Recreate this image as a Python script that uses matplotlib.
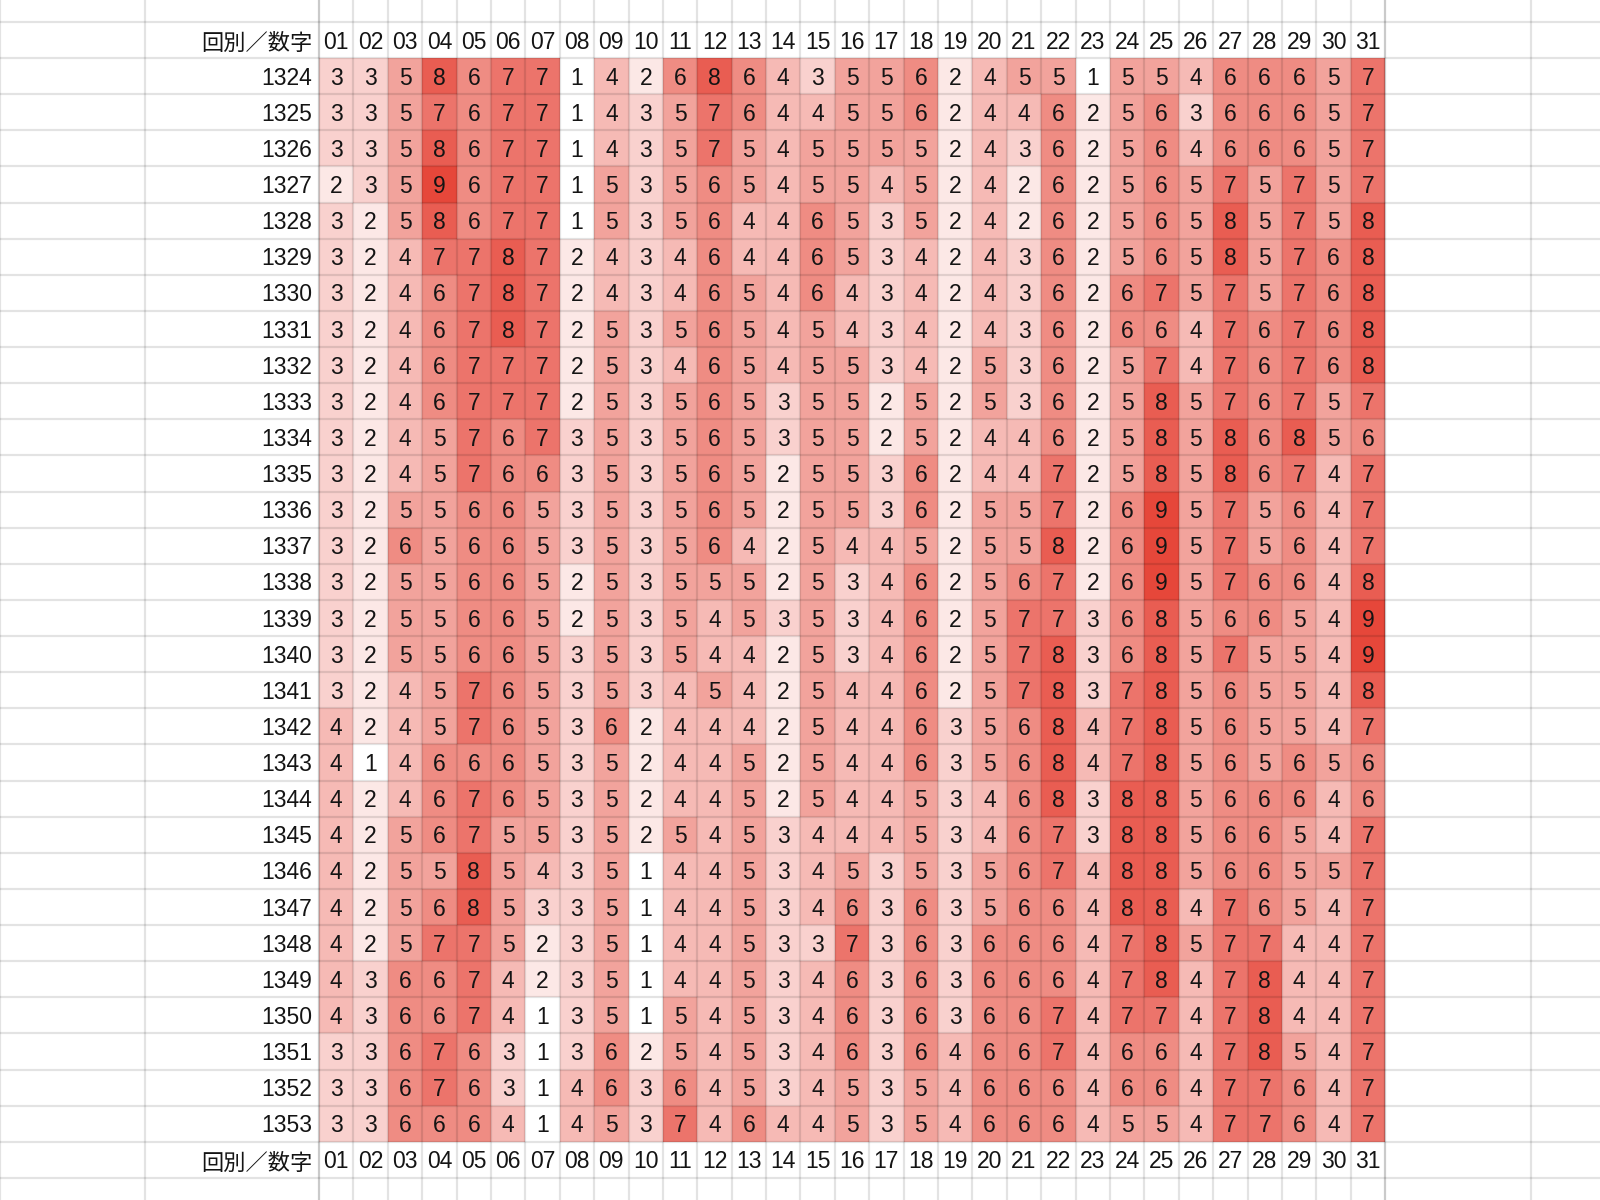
import numpy as np
import matplotlib.pyplot as plt
from matplotlib.colors import LinearSegmentedColormap

# Datos: conteo por número (01-31) en cada ronda
rounds = list(range(1324, 1354))
numbers = ['%02d' % n for n in range(1, 32)]
corner_label = '回別／数字'

counts = [
    [3, 3, 5, 8, 6, 7, 7, 1, 4, 2, 6, 8, 6, 4, 3, 5, 5, 6, 2, 4, 5, 5, 1, 5, 5, 4, 6, 6, 6, 5, 7],
    [3, 3, 5, 7, 6, 7, 7, 1, 4, 3, 5, 7, 6, 4, 4, 5, 5, 6, 2, 4, 4, 6, 2, 5, 6, 3, 6, 6, 6, 5, 7],
    [3, 3, 5, 8, 6, 7, 7, 1, 4, 3, 5, 7, 5, 4, 5, 5, 5, 5, 2, 4, 3, 6, 2, 5, 6, 4, 6, 6, 6, 5, 7],
    [2, 3, 5, 9, 6, 7, 7, 1, 5, 3, 5, 6, 5, 4, 5, 5, 4, 5, 2, 4, 2, 6, 2, 5, 6, 5, 7, 5, 7, 5, 7],
    [3, 2, 5, 8, 6, 7, 7, 1, 5, 3, 5, 6, 4, 4, 6, 5, 3, 5, 2, 4, 2, 6, 2, 5, 6, 5, 8, 5, 7, 5, 8],
    [3, 2, 4, 7, 7, 8, 7, 2, 4, 3, 4, 6, 4, 4, 6, 5, 3, 4, 2, 4, 3, 6, 2, 5, 6, 5, 8, 5, 7, 6, 8],
    [3, 2, 4, 6, 7, 8, 7, 2, 4, 3, 4, 6, 5, 4, 6, 4, 3, 4, 2, 4, 3, 6, 2, 6, 7, 5, 7, 5, 7, 6, 8],
    [3, 2, 4, 6, 7, 8, 7, 2, 5, 3, 5, 6, 5, 4, 5, 4, 3, 4, 2, 4, 3, 6, 2, 6, 6, 4, 7, 6, 7, 6, 8],
    [3, 2, 4, 6, 7, 7, 7, 2, 5, 3, 4, 6, 5, 4, 5, 5, 3, 4, 2, 5, 3, 6, 2, 5, 7, 4, 7, 6, 7, 6, 8],
    [3, 2, 4, 6, 7, 7, 7, 2, 5, 3, 5, 6, 5, 3, 5, 5, 2, 5, 2, 5, 3, 6, 2, 5, 8, 5, 7, 6, 7, 5, 7],
    [3, 2, 4, 5, 7, 6, 7, 3, 5, 3, 5, 6, 5, 3, 5, 5, 2, 5, 2, 4, 4, 6, 2, 5, 8, 5, 8, 6, 8, 5, 6],
    [3, 2, 4, 5, 7, 6, 6, 3, 5, 3, 5, 6, 5, 2, 5, 5, 3, 6, 2, 4, 4, 7, 2, 5, 8, 5, 8, 6, 7, 4, 7],
    [3, 2, 5, 5, 6, 6, 5, 3, 5, 3, 5, 6, 5, 2, 5, 5, 3, 6, 2, 5, 5, 7, 2, 6, 9, 5, 7, 5, 6, 4, 7],
    [3, 2, 6, 5, 6, 6, 5, 3, 5, 3, 5, 6, 4, 2, 5, 4, 4, 5, 2, 5, 5, 8, 2, 6, 9, 5, 7, 5, 6, 4, 7],
    [3, 2, 5, 5, 6, 6, 5, 2, 5, 3, 5, 5, 5, 2, 5, 3, 4, 6, 2, 5, 6, 7, 2, 6, 9, 5, 7, 6, 6, 4, 8],
    [3, 2, 5, 5, 6, 6, 5, 2, 5, 3, 5, 4, 5, 3, 5, 3, 4, 6, 2, 5, 7, 7, 3, 6, 8, 5, 6, 6, 5, 4, 9],
    [3, 2, 5, 5, 6, 6, 5, 3, 5, 3, 5, 4, 4, 2, 5, 3, 4, 6, 2, 5, 7, 8, 3, 6, 8, 5, 7, 5, 5, 4, 9],
    [3, 2, 4, 5, 7, 6, 5, 3, 5, 3, 4, 5, 4, 2, 5, 4, 4, 6, 2, 5, 7, 8, 3, 7, 8, 5, 6, 5, 5, 4, 8],
    [4, 2, 4, 5, 7, 6, 5, 3, 6, 2, 4, 4, 4, 2, 5, 4, 4, 6, 3, 5, 6, 8, 4, 7, 8, 5, 6, 5, 5, 4, 7],
    [4, 1, 4, 6, 6, 6, 5, 3, 5, 2, 4, 4, 5, 2, 5, 4, 4, 6, 3, 5, 6, 8, 4, 7, 8, 5, 6, 5, 6, 5, 6],
    [4, 2, 4, 6, 7, 6, 5, 3, 5, 2, 4, 4, 5, 2, 5, 4, 4, 5, 3, 4, 6, 8, 3, 8, 8, 5, 6, 6, 6, 4, 6],
    [4, 2, 5, 6, 7, 5, 5, 3, 5, 2, 5, 4, 5, 3, 4, 4, 4, 5, 3, 4, 6, 7, 3, 8, 8, 5, 6, 6, 5, 4, 7],
    [4, 2, 5, 5, 8, 5, 4, 3, 5, 1, 4, 4, 5, 3, 4, 5, 3, 5, 3, 5, 6, 7, 4, 8, 8, 5, 6, 6, 5, 5, 7],
    [4, 2, 5, 6, 8, 5, 3, 3, 5, 1, 4, 4, 5, 3, 4, 6, 3, 6, 3, 5, 6, 6, 4, 8, 8, 4, 7, 6, 5, 4, 7],
    [4, 2, 5, 7, 7, 5, 2, 3, 5, 1, 4, 4, 5, 3, 3, 7, 3, 6, 3, 6, 6, 6, 4, 7, 8, 5, 7, 7, 4, 4, 7],
    [4, 3, 6, 6, 7, 4, 2, 3, 5, 1, 4, 4, 5, 3, 4, 6, 3, 6, 3, 6, 6, 6, 4, 7, 8, 4, 7, 8, 4, 4, 7],
    [4, 3, 6, 6, 7, 4, 1, 3, 5, 1, 5, 4, 5, 3, 4, 6, 3, 6, 3, 6, 6, 7, 4, 7, 7, 4, 7, 8, 4, 4, 7],
    [3, 3, 6, 7, 6, 3, 1, 3, 6, 2, 5, 4, 5, 3, 4, 6, 3, 6, 4, 6, 6, 7, 4, 6, 6, 4, 7, 8, 5, 4, 7],
    [3, 3, 6, 7, 6, 3, 1, 4, 6, 3, 6, 4, 5, 3, 4, 5, 3, 5, 4, 6, 6, 6, 4, 6, 6, 4, 7, 7, 6, 4, 7],
    [3, 3, 6, 6, 6, 4, 1, 4, 5, 3, 7, 4, 6, 4, 4, 5, 3, 5, 4, 6, 6, 6, 4, 5, 5, 4, 7, 7, 6, 4, 7],
]

# Geometría de la hoja (en píxeles de la imagen)
W, H = 1600, 1200
col_w, row_h = 34.39, 36.125
x0, y0 = 319, 58          # esquina superior izquierda de la primera celda
sheet_cols_px = [0, 145, 319, 1385, 1531]


def run():
    data = np.array(counts)
    n_rows, n_cols = data.shape

    fig = plt.figure(figsize=(W / 100, H / 100), dpi=100)
    ax = fig.add_axes([0, 0, 1, 1])
    ax.axis('off')

    # Unidades de celda: columna i en [i, i+1], fila j en [j, j+1]
    ax.set_xlim(-x0 / col_w, (W - x0) / col_w)
    ax.set_ylim((H - y0) / row_h, -y0 / row_h)

    cmap = LinearSegmentedColormap.from_list('blanco_rojo', ['#FFFFFF', '#E6473A'])
    ax.pcolormesh(np.arange(n_cols + 1), np.arange(n_rows + 1), data,
                  cmap=cmap, vmin=1, vmax=9, shading='flat', zorder=1)

    # Cuadrícula tipo hoja de cálculo
    ylo, yhi = ax.get_ylim()
    xlo, xhi = ax.get_xlim()
    grid_kw = dict(color='black', alpha=0.11, linewidth=1.6, zorder=2)
    for x in range(n_cols + 1):
        ax.vlines(x, yhi, ylo, **grid_kw)
    for px in sheet_cols_px:
        ax.vlines((px - x0) / col_w, yhi, ylo, **grid_kw)
    for y in range(-2, n_rows + 3):
        ax.hlines(y, xlo, xhi, **grid_kw)

    txt = dict(fontsize=16.5, family='Liberation Sans', color='#141414', zorder=3)
    cjk = dict(fontsize=16, family=['Noto Sans CJK JP', 'DejaVu Sans'], color='#141414', zorder=3)
    dy = 0.56  # centro visual del texto dentro de la celda

    # Encabezados arriba y abajo
    for hy in (-1, n_rows):
        ax.text(-0.2, hy + dy + 0.03, corner_label, ha='right', va='center', **cjk)
        for i, lab in enumerate(numbers):
            ax.text(i + 0.5, hy + dy, lab, ha='center', va='center', **txt)

    # Etiquetas de ronda y valores
    for j, r in enumerate(rounds):
        ax.text(-0.2, j + dy, str(r), ha='right', va='center', **txt)
        for i in range(n_cols):
            ax.text(i + 0.5, j + dy, str(data[j, i]), ha='center', va='center', **txt)

    fig.savefig('out.png', dpi=100)


run()
